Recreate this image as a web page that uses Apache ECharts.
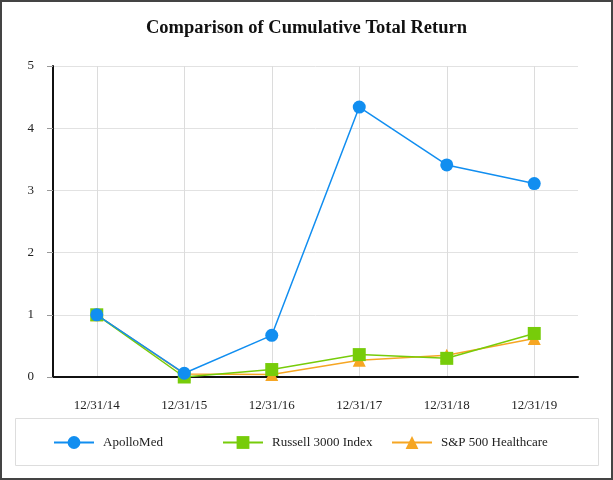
<!DOCTYPE html>
<html><head><meta charset="utf-8">
<script src="https://cdn.jsdelivr.net/npm/echarts@6/dist/echarts.min.js"></script>
<style>html,body{margin:0;padding:0;background:#fff}#c{width:613px;height:480px}</style>
</head><body><div id="c"></div>
<script>
const categories = ['12/31/14','12/31/15','12/31/16','12/31/17','12/31/18','12/31/19'];
const apolloMed = [1.00, 0.06, 0.67, 4.34, 3.41, 3.11];
const russell3000 = [1.00, 0.00, 0.12, 0.36, 0.30, 0.70];
const sp500Health = [1.00, 0.05, 0.04, 0.27, 0.35, 0.62];
const yTicks = [0, 1, 2, 3, 4, 5];

const font = 'Liberation Serif, Times New Roman, serif';
const chart = echarts.init(document.getElementById('c'));
const legendCommon = {
  top: 436, padding: 0, itemWidth: 40, itemHeight: 16, itemGap: 0,
  textStyle: {fontFamily: font, fontSize: 13, color: '#222', padding: [0,0,0,4]}
};
chart.setOption({
  animation: false,
  title: {text: 'Comparison of Cumulative Total Return', left: 'center', top: 19, padding: 0,
    textStyle: {fontFamily: font, fontSize: 18.5, fontWeight: 'bold', color: '#111'}},
  graphic: [
    {type: 'rect', shape: {x: 1, y: 1, width: 611, height: 478}, style: {fill: 'none', stroke: '#444', lineWidth: 2}, z: 100},
    {type: 'rect', shape: {x: 15.5, y: 418.5, width: 583, height: 47}, style: {fill: 'none', stroke: '#ddd', lineWidth: 1}}
  ],
  legend: [
    Object.assign({}, legendCommon, {left: 53, data: ['ApolloMed']}),
    Object.assign({}, legendCommon, {left: 222, data: ['Russell 3000 Index']}),
    Object.assign({}, legendCommon, {left: 391, data: ['S&P 500 Healthcare']})
  ],
  grid: {left: 53, right: 35, top: 66, bottom: 103},
  xAxis: {
    type: 'category', data: categories, boundaryGap: true,
    axisLine: {lineStyle: {color: '#111', width: 2}},
    axisTick: {alignWithLabel: true, length: 6, lineStyle: {color: '#999'}},
    axisLabel: {fontFamily: font, fontSize: 13, color: '#222', margin: 22},
    splitLine: {show: false}
  },
  yAxis: {
    type: 'value', min: yTicks[0], max: yTicks[yTicks.length-1], interval: 1,
    axisLine: {show: true, lineStyle: {color: '#111', width: 2}},
    axisTick: {show: true, length: 6, lineStyle: {color: '#999'}},
    axisLabel: {fontFamily: font, fontSize: 13, color: '#222', margin: 19},
    splitLine: {lineStyle: {color: '#e2e2e2'}}
  },
  series: [
    {name: 'ApolloMed', type: 'line', data: apolloMed, symbol: 'circle', symbolSize: 13,
      itemStyle: {color: '#118ef0'}, lineStyle: {color: '#118ef0', width: 1.5}, z: 5,
      markLine: {silent: true, symbol: 'none', label: {show: false}, z: 0,
        lineStyle: {color: '#dcdcdc', width: 1, type: 'solid'},
        data: categories.map(c => ({xAxis: c}))}},
    {name: 'Russell 3000 Index', type: 'line', data: russell3000, symbol: 'rect', symbolSize: 13,
      itemStyle: {color: '#77cc0a'}, lineStyle: {color: '#77cc0a', width: 1.5}, z: 4},
    {name: 'S&P 500 Healthcare', type: 'line', data: sp500Health, symbol: 'triangle', symbolSize: 13,
      itemStyle: {color: '#f6a623'}, lineStyle: {color: '#f6a623', width: 1.5}, z: 3}
  ]
});
</script></body></html>
